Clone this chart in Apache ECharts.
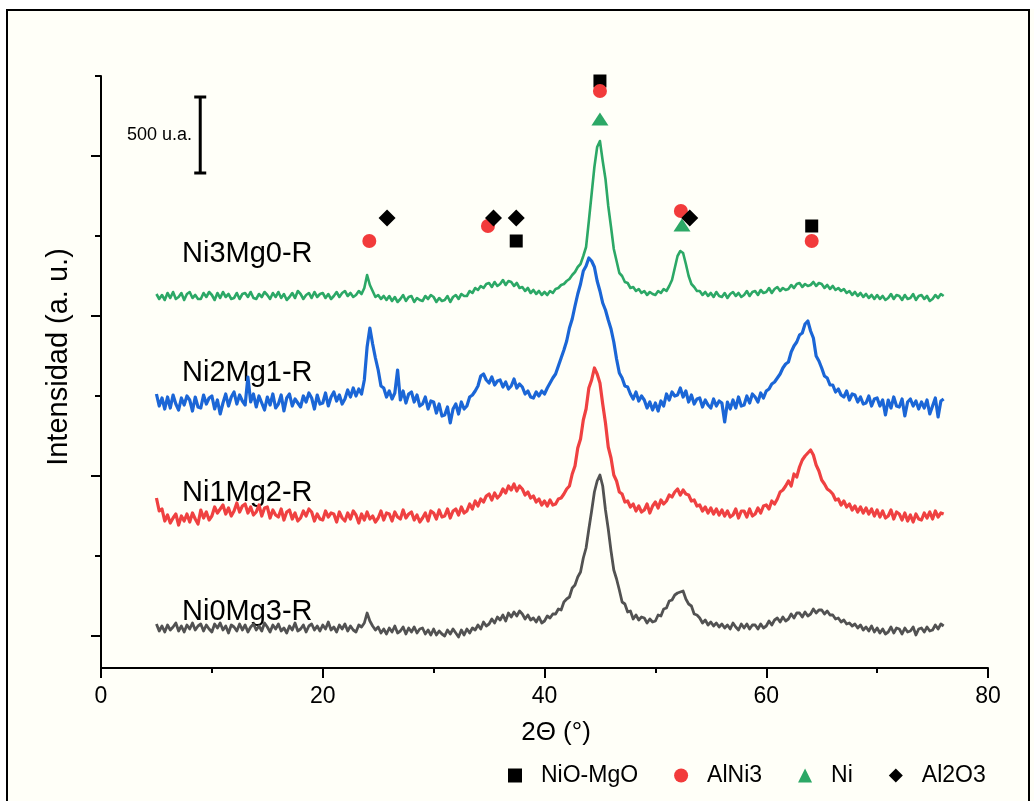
<!DOCTYPE html>
<html>
<head>
<meta charset="utf-8">
<title>DRX Ni-Mg</title>
<script src="https://cdn.jsdelivr.net/npm/echarts@6/dist/echarts.min.js"></script>
<style>
  html, body { margin: 0; padding: 0; background: #fff; }
  #chart { width: 1034px; height: 801px; }
</style>
</head>
<body>
<div id="chart"></div>
<script>
// 2θ grid: 5° -> 76°, every 0.25°
const THETA_START = 5
const THETA_STEP = 0.25

// intensities (a. u.), one row per degree
const ni0mg3 = [
  44, 37, 42, 36, 43, 38, 41, 45, 37, 42, 36, 43, 39, 45, 38, 42, 44, 37, 43, 39,
  36, 44, 40, 45, 38, 42, 35, 43, 41, 37, 44, 38, 43, 36, 41, 44, 38, 42, 37, 45,
  41, 36, 43, 39, 44, 37, 40, 35, 42, 38, 45, 37, 39, 43, 36, 42, 44, 38, 42, 37,
  43, 39, 46, 38, 41, 36, 43, 39, 44, 37, 42, 38, 36, 43, 41, 45, 55, 47, 42, 38,
  41, 35, 39, 34, 40, 36, 42, 35, 37, 41, 34, 40, 36, 41, 35, 39, 40, 34, 38, 33,
  39, 33, 37, 34, 32, 38, 34, 39, 35, 31, 38, 33, 39, 35, 40, 38, 43, 39, 46, 42,
  44, 49, 45, 51, 48, 53, 47, 55, 51, 56, 52, 57, 54, 49, 53, 48, 50, 46, 51, 45,
  47, 52, 50, 54, 54, 59, 58, 66, 69, 71, 80, 83, 91, 96, 110, 120, 139, 157, 176, 187,
  193, 182, 158, 139, 117, 98, 89, 78, 66, 64, 56, 57, 49, 53, 48, 51, 50, 45, 49, 46,
  47, 53, 52, 59, 60, 67, 68, 73, 75, 76, 77, 69, 64, 62, 54, 53, 50, 45, 48, 43,
  46, 42, 45, 41, 44, 40, 43, 39, 45, 41, 38, 44, 40, 44, 39, 43, 43, 39, 44, 40,
  42, 47, 43, 48, 50, 46, 51, 47, 49, 54, 50, 55, 55, 51, 56, 52, 54, 59, 55, 58,
  58, 54, 57, 53, 53, 49, 50, 46, 48, 44, 45, 42, 44, 40, 43, 38, 41, 37, 42, 36,
  40, 35, 39, 34, 36, 41, 35, 40, 39, 34, 40, 36, 37, 41, 33, 39, 40, 36, 41, 37,
  38, 43, 39, 44, 42
]
const ni1mg2 = [
  58, 45, 47, 35, 41, 33, 38, 42, 31, 40, 35, 42, 34, 43, 37, 32, 46, 38, 44, 36,
  40, 49, 43, 47, 51, 42, 48, 40, 45, 53, 44, 50, 52, 43, 49, 41, 44, 51, 40, 48,
  49, 38, 46, 41, 39, 47, 36, 44, 46, 37, 43, 35, 38, 45, 40, 47, 44, 35, 42, 37,
  36, 45, 39, 43, 42, 34, 44, 38, 35, 43, 37, 45, 41, 33, 42, 36, 44, 37, 40, 34,
  38, 45, 36, 43, 42, 35, 44, 39, 37, 46, 38, 42, 44, 36, 41, 34, 38, 43, 35, 45,
  43, 37, 46, 39, 40, 47, 38, 45, 47, 41, 49, 43, 45, 52, 47, 55, 50, 57, 54, 60,
  62, 56, 63, 58, 61, 67, 63, 70, 66, 72, 65, 70, 67, 61, 64, 58, 60, 54, 57, 51,
  55, 50, 56, 51, 52, 57, 58, 62, 67, 70, 82, 90, 108, 117, 136, 147, 168, 176, 188, 182,
  173, 152, 133, 109, 98, 81, 75, 64, 62, 54, 55, 49, 52, 45, 50, 44, 46, 52, 43, 50,
  54, 48, 56, 52, 55, 61, 59, 64, 67, 61, 66, 62, 61, 55, 56, 50, 51, 45, 49, 43,
  48, 42, 47, 41, 46, 40, 45, 39, 41, 47, 38, 45, 45, 39, 47, 40, 42, 48, 43, 50,
  51, 47, 55, 52, 57, 64, 66, 70, 75, 70, 82, 79, 89, 96, 100, 103, 106, 101, 91, 85,
  76, 72, 67, 65, 62, 56, 57, 51, 55, 49, 52, 46, 50, 44, 49, 43, 48, 42, 47, 40,
  46, 39, 45, 38, 40, 46, 37, 44, 42, 36, 43, 35, 41, 34, 42, 37, 36, 43, 38, 44,
  37, 45, 39, 43, 42
]
const ni2mg1 = [
  50, 38, 46, 35, 47, 36, 49, 40, 34, 46, 39, 48, 44, 33, 47, 37, 36, 49, 40, 46,
  48, 35, 44, 30, 41, 50, 38, 47, 52, 40, 49, 43, 39, 67, 42, 50, 37, 48, 41, 34,
  47, 39, 50, 36, 40, 49, 33, 46, 50, 38, 45, 41, 37, 48, 42, 51, 46, 35, 49, 40,
  41, 51, 38, 47, 52, 43, 49, 40, 45, 54, 47, 56, 48, 55, 50, 64, 97, 116, 100, 86,
  74, 58, 56, 47, 53, 45, 51, 74, 44, 53, 41, 50, 52, 42, 49, 38, 40, 47, 35, 43,
  42, 31, 40, 28, 29, 37, 21, 35, 40, 30, 42, 35, 38, 47, 49, 53, 58, 68, 70, 64,
  61, 67, 59, 63, 64, 57, 62, 55, 58, 65, 56, 60, 57, 50, 53, 47, 46, 52, 48, 53,
  50, 56, 61, 66, 70, 78, 86, 94, 103, 116, 125, 138, 150, 160, 173, 178, 186, 183, 177, 163,
  153, 141, 134, 124, 115, 102, 85, 71, 66, 58, 57, 50, 45, 52, 43, 48, 44, 36, 42, 34,
  41, 33, 43, 38, 50, 44, 52, 48, 49, 56, 47, 53, 42, 49, 40, 45, 46, 37, 44, 39,
  36, 45, 38, 43, 41, 22, 42, 35, 44, 36, 47, 38, 39, 48, 41, 50, 47, 42, 51, 46,
  53, 55, 60, 62, 66, 70, 76, 80, 82, 92, 98, 102, 109, 111, 120, 123, 113, 106, 88, 83,
  76, 68, 66, 59, 59, 52, 55, 49, 47, 53, 44, 50, 49, 42, 47, 40, 41, 48, 38, 45,
  46, 38, 44, 29, 44, 36, 47, 38, 37, 45, 28, 42, 45, 38, 43, 35, 42, 36, 44, 30,
  38, 46, 27, 43, 45
]
const ni3mg0 = [
  38, 33, 37, 32, 39, 34, 40, 33, 35, 39, 32, 38, 40, 34, 37, 33, 33, 39, 35, 40,
  37, 32, 39, 34, 40, 35, 38, 33, 34, 39, 33, 38, 39, 35, 40, 34, 33, 38, 35, 40,
  37, 33, 39, 35, 40, 34, 38, 32, 35, 39, 34, 41, 38, 33, 37, 39, 34, 40, 35, 38,
  39, 34, 38, 33, 36, 40, 35, 39, 41, 36, 39, 35, 37, 41, 38, 44, 57, 47, 41, 35,
  37, 33, 36, 32, 36, 31, 35, 30, 33, 37, 31, 35, 36, 30, 34, 32, 31, 36, 33, 37,
  35, 30, 34, 31, 32, 36, 30, 35, 37, 33, 38, 36, 36, 41, 39, 44, 42, 46, 44, 48,
  49, 45, 50, 46, 48, 52, 47, 51, 50, 46, 49, 44, 45, 41, 44, 39, 42, 38, 41, 37,
  40, 37, 41, 39, 43, 44, 47, 48, 51, 53, 57, 60, 65, 68, 76, 85, 111, 138, 165, 185,
  191, 171, 153, 126, 105, 83, 71, 59, 56, 50, 49, 44, 45, 41, 43, 39, 41, 37, 40, 38,
  37, 41, 39, 43, 41, 46, 52, 64, 76, 81, 79, 68, 56, 48, 45, 41, 41, 37, 40, 36,
  39, 35, 40, 36, 35, 39, 34, 38, 40, 36, 39, 35, 37, 41, 36, 40, 41, 37, 42, 39,
  40, 44, 39, 43, 45, 41, 44, 42, 43, 47, 44, 48, 49, 45, 48, 46, 47, 50, 46, 49,
  48, 44, 47, 43, 46, 42, 44, 41, 43, 39, 41, 37, 40, 36, 39, 35, 38, 34, 37, 33,
  37, 33, 36, 32, 34, 38, 33, 37, 36, 32, 37, 33, 34, 38, 32, 36, 37, 33, 36, 31,
  33, 37, 34, 38, 36
]

const sampleNames = ['Ni0Mg3-R', 'Ni1Mg2-R', 'Ni2Mg1-R', 'Ni3Mg0-R']
const sampleData = [ni0mg3, ni1mg2, ni2mg1, ni3mg0]
const offsets = [0, 112, 224, 336]
const sampleColors = ['#525252', '#ef4141', '#1b66d6', '#2ca866']
const sampleWidths = [2.8, 3.2, 3.2, 2.6]

// phase markers [2θ, position]
const phaseNames = ['NiO-MgO', 'AlNi3', 'Ni', 'Al2O3']
const nioMgo = [[45.0, 587], [37.45, 427], [64.1, 442]]
const alNi3 = [[45.0, 577], [24.2, 427], [34.9, 442], [52.3, 457], [64.1, 427]]
const ni = [[45.0, 549], [52.4, 443]]
const al2o3 = [[25.8, 450], [35.4, 450], [37.45, 450], [53.1, 450]]

// escala 500 u.a.
const scaleBar = [[8.95, 495], [8.95, 571]]

// ticks eje y (sin etiquetas)
const yMajorTicks = [32, 192, 352, 512]
const yMinorTicks = [112, 272, 432, 592]

const FONT = '"Liberation Sans", Arial, sans-serif'

const chart = echarts.init(document.getElementById('chart'))

const lineSeries = sampleData.map((values, k) => ({
  name: sampleNames[k],
  type: 'line',
  data: values.map((v, i) => [THETA_START + i * THETA_STEP, v + offsets[k]]),
  showSymbol: false,
  symbol: 'none',
  sampling: false,
  lineStyle: { color: sampleColors[k], width: sampleWidths[k], join: 'round' },
  z: 3,
}))

const markerSeries = [
  { data: nioMgo, symbol: 'rect', symbolSize: [13, 13], color: '#000' },
  { data: alNi3, symbol: 'circle', symbolSize: 14, color: '#f23b3b' },
  { data: ni, symbol: 'triangle', symbolSize: [17, 13], color: '#2ca866' },
  { data: al2o3, symbol: 'diamond', symbolSize: [17, 17], color: '#000' },
].map((m, k) => ({
  name: phaseNames[k],
  type: 'scatter',
  data: m.data,
  symbol: m.symbol,
  symbolSize: m.symbolSize,
  itemStyle: { color: m.color, opacity: 1 },
  z: 5 + k,
}))

const option = {
  backgroundColor: '#fffff8',
  animation: false,
  grid: { left: 101, right: 46, top: 76, bottom: 133 },
  xAxis: {
    type: 'value',
    min: 0,
    max: 80,
    interval: 20,
    axisLine: { lineStyle: { color: '#000', width: 2 } },
    axisTick: { length: 10, lineStyle: { color: '#000', width: 2 } },
    minorTick: { show: true, splitNumber: 2, length: 5, lineStyle: { color: '#000', width: 2 } },
    splitLine: { show: false },
    axisLabel: { color: '#000', fontSize: 23, fontFamily: FONT, margin: 17 },
  },
  yAxis: [
    {
      type: 'value',
      min: 0,
      max: 592,
      axisLine: { show: true, lineStyle: { color: '#000', width: 2 } },
      axisTick: { show: true, length: 10, customValues: yMajorTicks, lineStyle: { color: '#000', width: 2 } },
      axisLabel: { show: false, customValues: yMajorTicks },
      splitLine: { show: false },
    },
    {
      type: 'value',
      min: 0,
      max: 592,
      position: 'left',
      axisLine: { show: false },
      axisTick: { show: true, length: 6, customValues: yMinorTicks, lineStyle: { color: '#000', width: 2 } },
      axisLabel: { show: false, customValues: yMinorTicks },
      splitLine: { show: false },
    },
  ],
  legend: {
    data: phaseNames,
    left: 503,
    top: 759,
    itemWidth: 14,
    itemHeight: 14,
    itemGap: 36,
    textStyle: { color: '#000', fontSize: 23, fontFamily: FONT, padding: [0, 0, 0, 14] },
  },
  graphic: [
    { type: 'rect', shape: { x: 0, y: 0, width: 1034, height: 9 }, style: { fill: '#fff' } },
    { type: 'rect', shape: { x: 0, y: 0, width: 6, height: 801 }, style: { fill: '#fff' } },
    { type: 'rect', shape: { x: 7, y: 10, width: 1022, height: 800 }, style: { fill: 'none', stroke: '#000', lineWidth: 2 } },
    { type: 'text', x: 59, y: 357, rotation: Math.PI / 2,
      style: { text: 'Intensidad (a. u.)', fontSize: 29, fontFamily: FONT, fill: '#000', align: 'center', verticalAlign: 'middle' } },
    { type: 'text', x: 556, y: 733,
      style: { text: '2Θ (°)', fontSize: 26, fontFamily: FONT, fill: '#000', align: 'center', verticalAlign: 'middle' } },
    { type: 'text', x: 192, y: 135,
      style: { text: '500 u.a.', fontSize: 18, fontFamily: FONT, fill: '#000', align: 'right', verticalAlign: 'middle' } },
    ...[612, 493, 373, 254].map((y, k) => ({
      type: 'text', x: 182, y: y,
      style: { text: sampleNames[k], fontSize: 29, fontFamily: FONT, fill: '#000', align: 'left', verticalAlign: 'middle' },
    })),
  ],
  series: [
    ...lineSeries,
    {
      name: 'escala',
      type: 'line',
      data: scaleBar,
      symbol: 'rect',
      symbolSize: [12, 3],
      itemStyle: { color: '#000' },
      lineStyle: { color: '#000', width: 3 },
      z: 4,
    },
    ...markerSeries,
  ],
}

chart.setOption(option)
</script>
</body>
</html>
